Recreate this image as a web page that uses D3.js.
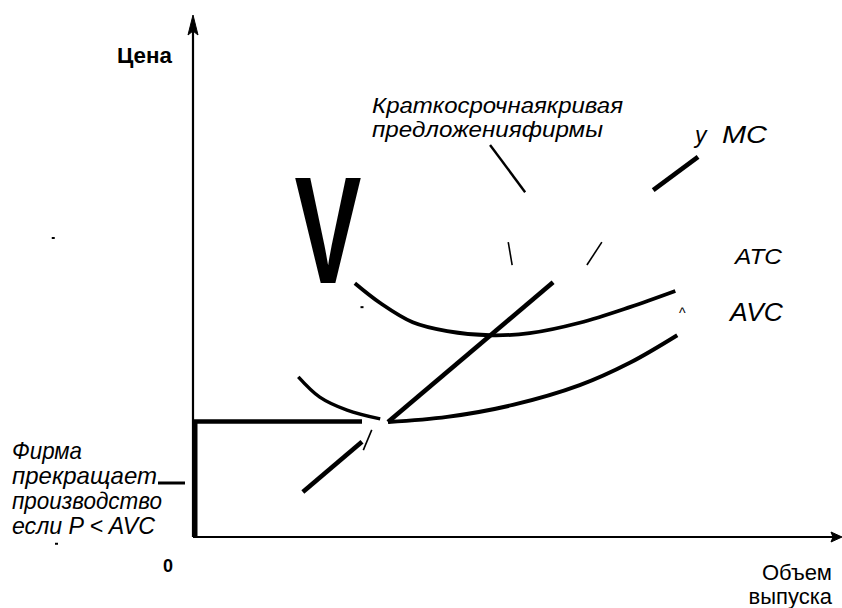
<!DOCTYPE html>
<html><head><meta charset="utf-8">
<script src="https://cdn.jsdelivr.net/npm/d3@7"></script>
<style>
html,body{margin:0;padding:0;background:#fff;}
svg{display:block;}
text{font-family:"Liberation Sans",Arial,sans-serif;fill:#000;}
</style></head>
<body>
<svg id="chart" width="842" height="608"></svg>
<script>
// ---- data (quantity, price) ----
const atcCurve = [[24.9,48.8],[28.8,45.0],[33.8,41.3],[39.1,39.6],[45.7,38.8],[51.8,39.2],[59.5,41.2],[67.2,44.2],[74.2,47.3]];
const avcLeft  = [[16.2,30.8],[19.5,26.9],[23.7,24.4],[28.8,22.7]];
const avcRight = [[30.0,22.1],[39.1,23.1],[49.2,25.4],[59.5,29.2],[67.2,33.5],[74.5,38.8]];
const mcLow  = [[16.9,8.65],[26.0,18.3]];
const mcMid  = [[30.0,22.1],[55.4,49.0]];
const mcHigh = [[70.8,66.7],[77.7,73.1]];
const shutdownPrice = 22.2;
const shutdownLine = [[0,shutdownPrice],[26.0,shutdownPrice]];
const shutdownAxis = [[0,0],[0,shutdownPrice]];
const pointerLines = [
  [[45.7,75.4],[51.1,66.3]],
  [[48.5,56.7],[49.1,52.3]],
  [[62.9,56.7],[60.6,52.3]],
  [[27.5,20.6],[26.2,16.7]]
];
const specks = [[-21.5,57.5],[26.0,44.2],[-21.0,-1.3]];
const supplyLabel = ["Краткосрочнаякривая","предложенияфирмы"];
const supplyWidths = [251,231];
const shutdownLabel = ["Фирма","прекращает","производство","если P < AVC"];
const shutdownWidths = [70,145,150,143];
const xAxisLabel = ["Объем","выпуска"];
const yAxisLabel = "Цена";

const svg = d3.select("#chart");
const x = d3.scaleLinear().domain([0,100]).range([193,843]);
const y = d3.scaleLinear().domain([0,100]).range([537,17]);
const line = d3.line().x(d=>x(d[0])).y(d=>y(d[1]));
const curve = d3.line().x(d=>x(d[0])).y(d=>y(d[1])).curve(d3.curveCatmullRom.alpha(0.5));

// axes
const x0 = x(0), y0 = y(0);
svg.append("line").attr("x1",x0).attr("y1",y0).attr("x2",834).attr("y2",y0).attr("stroke","#000").attr("stroke-width",2.2);
svg.append("path").attr("d",`M842,${y0} L831,${y0-5} L833,${y0} L831,${y0+5} Z`).attr("fill","#000").attr("stroke","#000").attr("stroke-width",1);
svg.append("line").attr("x1",x0).attr("y1",y0).attr("x2",x0).attr("y2",30).attr("stroke","#000").attr("stroke-width",2.2);
svg.append("path").attr("d",`M${x0},15 L${x0-5},35 L${x0},31 L${x0+5},35 Z`).attr("fill","#000").attr("stroke","#000").attr("stroke-width",1);

// thick shutdown segment on axis
svg.append("path").attr("d",line(shutdownAxis)).attr("transform","translate(2,0)").attr("stroke","#000").attr("stroke-width",5).attr("fill","none");
svg.append("path").attr("d",line(shutdownLine)).attr("stroke","#000").attr("stroke-width",4.5).attr("fill","none");

// curves
svg.append("path").attr("d",curve(atcCurve)).attr("stroke","#000").attr("stroke-width",3.8).attr("fill","none");
svg.append("path").attr("d",curve(avcLeft)).attr("stroke","#000").attr("stroke-width",3.4).attr("fill","none");
svg.append("path").attr("d",curve(avcRight)).attr("stroke","#000").attr("stroke-width",4).attr("fill","none");
[mcLow,mcMid,mcHigh].forEach(s=>{
  svg.append("path").attr("d",line(s)).attr("stroke","#000").attr("stroke-width",4.6).attr("fill","none");
});
pointerLines.forEach((s,i)=>{
  svg.append("path").attr("d",line(s)).attr("stroke","#000").attr("stroke-width",i===0?2.4:1.6).attr("fill","none");
});
specks.forEach(p=>{
  svg.append("rect").attr("x",x(p[0])-1.5).attr("y",y(p[1])-1).attr("width",3).attr("height",2).attr("fill","#000");
});

// big V (scan artifact)
svg.append("text").attr("transform","translate(328,283) scale(0.66,1)").attr("text-anchor","middle")
  .style("font-family","'Liberation Sans',sans-serif").style("font-weight","bold").style("font-size","152px").text("V");

// labels
svg.append("text").attr("x",117).attr("y",63).attr("textLength",55).attr("lengthAdjust","spacingAndGlyphs")
  .style("font-weight","bold").style("font-size","22px").text(yAxisLabel);
svg.append("text").attr("x",168).attr("y",572).attr("text-anchor","middle").style("font-weight","bold").style("font-size","18px").text("0");
supplyLabel.forEach((t,i)=>{
  svg.append("text").attr("x",372).attr("y",113+i*24).attr("textLength",supplyWidths[i]).attr("lengthAdjust","spacingAndGlyphs")
    .style("font-style","italic").style("font-size","22px").text(t);
});
svg.append("text").attr("x",695).attr("y",143).style("font-style","italic").style("font-size","23px").text("у");
svg.append("text").attr("x",722).attr("y",143).attr("textLength",45).attr("lengthAdjust","spacingAndGlyphs")
  .style("font-style","italic").style("font-size","23px").text("MC");
svg.append("text").attr("x",735).attr("y",264).attr("textLength",47).attr("lengthAdjust","spacingAndGlyphs")
  .style("font-style","italic").style("font-size","22px").text("ATC");
svg.append("text").attr("x",730).attr("y",321).attr("textLength",53).attr("lengthAdjust","spacingAndGlyphs")
  .style("font-style","italic").style("font-size","25px").text("AVC");
svg.append("text").attr("x",679).attr("y",318).style("font-size","14px").text("^");
shutdownLabel.forEach((t,i)=>{
  svg.append("text").attr("x",12).attr("y",459+i*25).attr("textLength",shutdownWidths[i]).attr("lengthAdjust","spacingAndGlyphs")
    .style("font-style","italic").style("font-size","24px").text(t);
});
svg.append("line").attr("x1",158).attr("y1",483).attr("x2",185).attr("y2",483).attr("stroke","#000").attr("stroke-width",3);
xAxisLabel.forEach((t,i)=>{
  svg.append("text").attr("x",832).attr("y",580+i*24).attr("text-anchor","end").style("font-size","22px").text(t);
});
</script>
</body></html>
